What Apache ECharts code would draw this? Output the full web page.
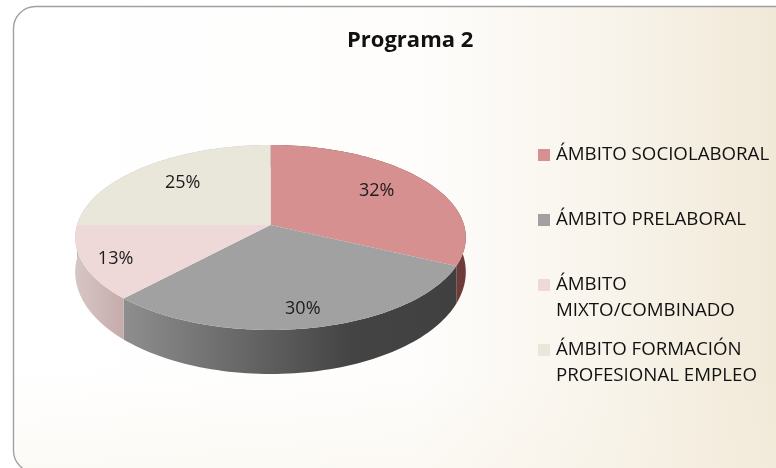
<!DOCTYPE html>
<html><head><meta charset="utf-8">
<style>html,body{margin:0;padding:0;background:#fff}#c{width:776px;height:468px}</style>
<script src="https://cdn.jsdelivr.net/npm/echarts@6/dist/echarts.min.js"></script>
</head><body><div id="c"></div>
<script>
const titleText = 'Programa 2';
const categories = ['ÁMBITO SOCIOLABORAL', 'ÁMBITO PRELABORAL', 'ÁMBITO\nMIXTO/COMBINADO', 'ÁMBITO FORMACIÓN\nPROFESIONAL EMPLEO'];
const values = [32, 30, 13, 25];

const topColors = ['#d69090', '#a1a1a1', '#efd8d8', '#e9e7da'];
const sideFills = [
  '#6f3a3a',
  {type:'linear',x:0,y:0,x2:1,y2:0,colorStops:[{offset:0,color:'#8e8e8e'},{offset:.68,color:'#444444'},{offset:1,color:'#404040'}]},
  {type:'linear',x:0,y:0,x2:1,y2:0,colorStops:[{offset:0,color:'#d6c6c5'},{offset:1,color:'#c7abab'}]},
  '#b9b7ab'
];
const legendRows = [155, 220, 285, 350];
const labelReach = [0.75, 0.84, 0.9, 0.7];
const labelNudge = [[-10,0],[-2,0],[13,0],[2,0]];
const uiFont = '"Open Sans", sans-serif';

// perspective projection of the pie disc
const geo = {cx:270.5, cy:225, sx:193.5, sy:90.8, k:-0.135, d0:33, d1:11};
function proj(u, v) {
  const w = 1 + geo.k * v;
  return [geo.cx + geo.sx * u / w, geo.cy + geo.sy * v / w];
}
function rim(t, depth) {
  const u = Math.sin(t), v = -Math.cos(t);
  const p = proj(u, v);
  return depth ? [p[0], p[1] + geo.d0 + geo.d1 * v] : p;
}
const total = values.reduce((a, b) => a + b, 0);
let run = 0;
const seriesData = values.map((v, i) => { const s = run; run += v; return {name: categories[i].replace('\n',' '), value: [v, s, i]}; });

function renderItem(params, api) {
  const val = api.value(0), start = api.value(1), i = api.value(2);
  const t0 = start / total * 2 * Math.PI, t1 = (start + val) / total * 2 * Math.PI;
  const n = 70, arcTop = [], arcBot = [];
  for (let j = 0; j <= n; j++) {
    const t = t0 + (t1 - t0) * j / n;
    arcTop.push(rim(t, false));
    arcBot.push(rim(t, true));
  }
  const tm = (t0 + t1) / 2, f = labelReach[i];
  const lp = proj(f * Math.sin(tm), -f * Math.cos(tm));
  return {type:'group', children:[
    {type:'polygon', z2:1, shape:{points:arcTop.concat(arcBot.slice().reverse())}, style:{fill:sideFills[i]}},
    {type:'polygon', z2:10, shape:{points:[proj(0,0)].concat(arcTop)}, style:{fill:topColors[i]}},
    {type:'text', z2:20, x:lp[0] + labelNudge[i][0], y:lp[1] + labelNudge[i][1],
      style:{text:val + '%', fill:'#1c1c1c', font:'18px ' + uiFont, align:'center', verticalAlign:'middle'}}
  ]};
}

const legendGraphics = [];
categories.forEach((c, i) => {
  legendGraphics.push({type:'rect', left:538, top:legendRows[i]-6, shape:{width:12,height:12}, style:{fill:topColors[i]}, z:5});
  legendGraphics.push({type:'text', left:556, top:legendRows[i]-13, z:5,
    style:{text:c, fill:'#111', font:'18.7px ' + uiFont, lineHeight:26}});
});
const panel = {x:13.5, y:6.5, width:800, height:466, r:22};

const chart = echarts.init(document.getElementById('c'), null, {renderer:'canvas'});
chart.setOption({
  animation:false,
  title:{text:titleText, left:342, top:25, textStyle:{fontSize:22, fontWeight:'bold', color:'#111', fontFamily:uiFont}},
  graphic:[
    {type:'rect', z:-3, shape:panel,
      style:{stroke:'#a0a0a0', lineWidth:1.4,
        fill:{type:'linear',x:0,y:0,x2:1,y2:0,colorStops:[{offset:0,color:'#ffffff'},{offset:.5,color:'#fefdfc'},{offset:.72,color:'#f9f5ed'},{offset:.95,color:'#f1e9d8'},{offset:1,color:'#f0e8d6'}]}}},
    {type:'rect', z:-2, shape:{x:14.5,y:370,width:800,height:101.5,r:[0,0,21,21]},
      style:{fill:{type:'linear',x:0,y:0,x2:0,y2:1,colorStops:[{offset:0,color:'rgba(246,239,224,0)'},{offset:1,color:'rgba(246,239,224,0.3)'}]}}},
    ...legendGraphics
  ],
  series:[{type:'custom', coordinateSystem:'none', renderItem, data:seriesData, silent:true}]
});
</script></body></html>
